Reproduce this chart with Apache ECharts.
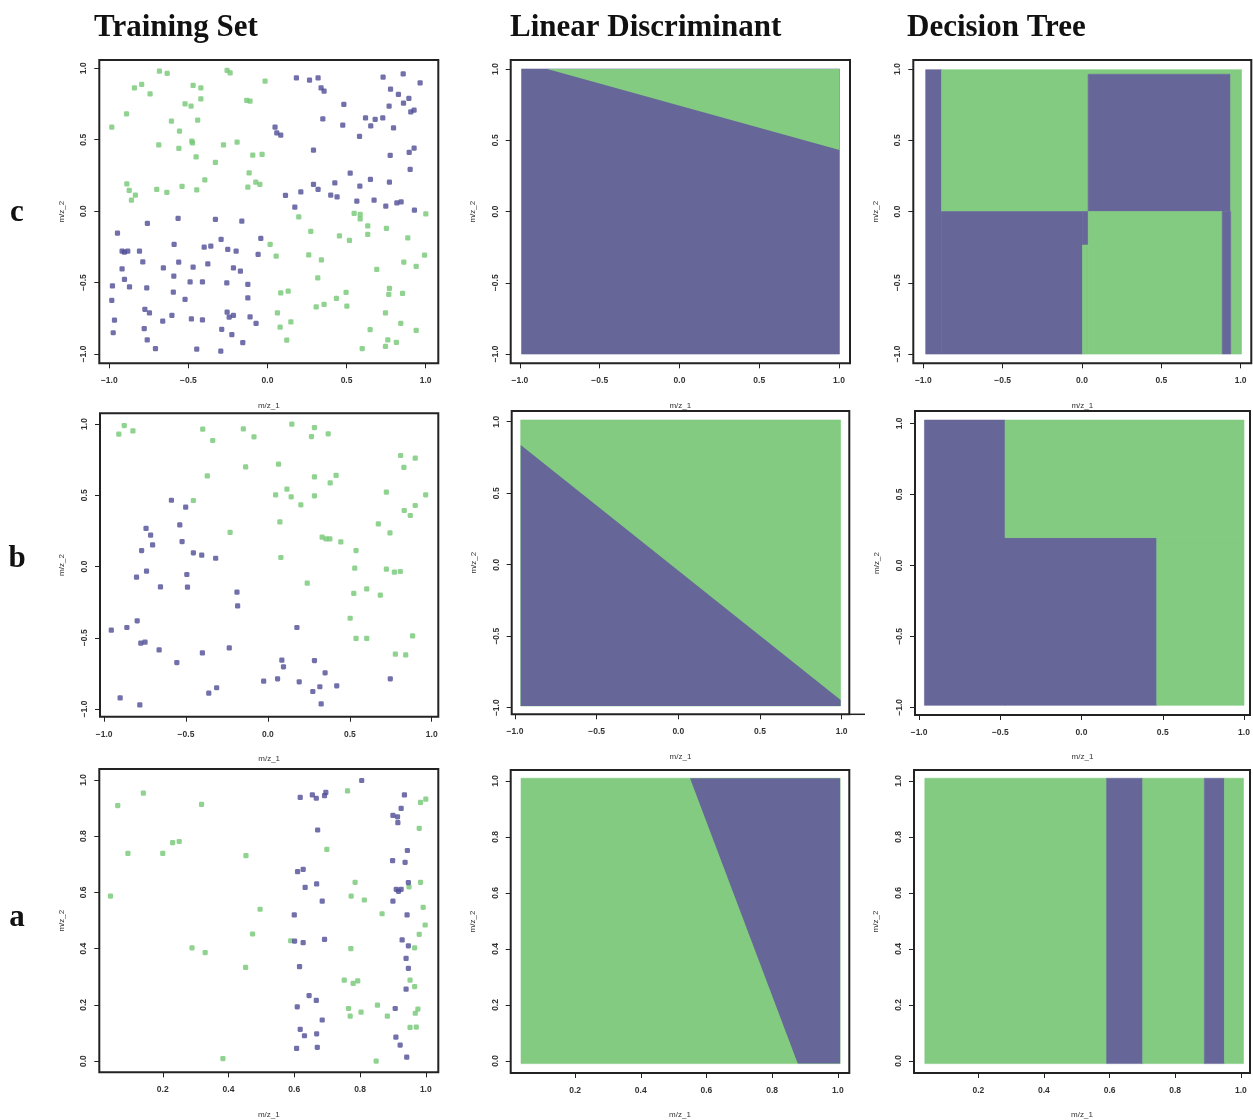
<!DOCTYPE html>
<html><head><meta charset="utf-8">
<script src="https://cdn.jsdelivr.net/npm/echarts@6/dist/echarts.min.js"></script>
<style>html,body{margin:0;padding:0;background:#fff}#c{width:1253px;height:1120px}</style>
</head><body><div id="c"></div>
<script>
// ---------- tick labels ----------
const ticksSym = [-1, -0.5, 0, 0.5, 1];
const ticksUnitX = [0.2, 0.4, 0.6, 0.8, 1.0];
const ticksUnitY = [0, 0.2, 0.4, 0.6, 0.8, 1.0];
const columnTitles = ['Training Set', 'Linear Discriminant', 'Decision Tree'];
const rowLabels = ['c', 'b', 'a'];
const xName = 'm/z_1', yName = 'm/z_2';

// ---------- training sets (m/z_1, m/z_2) ----------
const cTrainGreen = [[-0.984,0.588],[-0.891,0.681],[-0.841,0.863],[-0.795,0.887],[-0.742,0.821],[-0.683,0.980],[-0.634,0.964],[-0.470,0.880],[-0.421,0.863],[-0.421,0.786],[-0.521,0.751],[-0.483,0.735],[-0.441,0.637],[-0.607,0.630],[-0.556,0.560],[-0.478,0.490],[-0.474,0.478],[-0.687,0.464],[-0.560,0.439],[-0.451,0.380],[-0.329,0.341],[-0.278,0.464],[-0.192,0.483],[-0.255,0.985],[-0.236,0.968],[-0.131,0.775],[-0.110,0.770],[-0.015,0.910],[-0.093,0.392],[-0.034,0.397],[-0.116,0.268],[-0.074,0.203],[-0.048,0.187],[-0.124,0.168],[-0.396,0.219],[-0.447,0.149],[-0.540,0.173],[-0.700,0.152],[-0.636,0.131],[-0.889,0.191],[-0.874,0.145],[-0.835,0.112],[-0.860,0.077],
[0.198,-0.040],[0.548,-0.016],[0.586,-0.023],[0.586,-0.054],[0.634,-0.103],[0.634,-0.163],[1.001,-0.019],[0.274,-0.142],[0.455,-0.173],[0.518,-0.205],[0.752,-0.121],[0.887,-0.187],[0.017,-0.233],[0.055,-0.315],[0.261,-0.306],[0.341,-0.341],[0.691,-0.408],[0.862,-0.357],[0.993,-0.308],[0.940,-0.387],[0.318,-0.467],[0.084,-0.572],[0.131,-0.560],[0.497,-0.569],[0.436,-0.611],[0.502,-0.665],[0.308,-0.670],[0.358,-0.653],[0.063,-0.712],[0.080,-0.812],[0.148,-0.775],[0.122,-0.903],[0.771,-0.541],[0.767,-0.583],[0.854,-0.576],[0.746,-0.712],[0.843,-0.786],[0.649,-0.829],[0.940,-0.835],[0.599,-0.962],[0.746,-0.947],[0.761,-0.901],[0.815,-0.919]];
const cTrainPurple = [[0.183,0.933],[0.266,0.917],[0.320,0.933],[0.339,0.863],[0.358,0.840],[0.048,0.588],[0.059,0.548],[0.084,0.532],[0.291,0.427],[0.350,0.646],[0.483,0.747],[0.476,0.602],[0.731,0.938],[0.858,0.961],[0.965,0.898],[0.778,0.854],[0.828,0.817],[0.894,0.789],[0.769,0.735],[0.860,0.756],[0.906,0.695],[0.927,0.707],[0.620,0.653],[0.681,0.642],[0.729,0.653],[0.653,0.597],[0.582,0.523],[0.797,0.583],[0.776,0.390],[0.896,0.411],[0.927,0.441],[0.902,0.292],
[0.523,0.266],[0.651,0.222],[0.426,0.198],[0.291,0.187],[0.320,0.152],[0.584,0.175],[0.771,0.203],[0.114,0.110],[0.211,0.135],[0.400,0.112],[0.440,0.100],[0.565,0.070],[0.674,0.077],[0.748,0.035],[0.818,0.058],[0.845,0.065],[0.929,0.007],[0.173,0.028],
[-0.759,-0.086],[-0.565,-0.051],[-0.329,-0.058],[-0.162,-0.070],[-0.948,-0.154],[-0.590,-0.233],[-0.293,-0.198],[-0.042,-0.191],[-0.919,-0.280],[-0.904,-0.287],[-0.883,-0.280],[-0.809,-0.280],[-0.788,-0.355],[-0.400,-0.252],[-0.358,-0.245],[-0.251,-0.268],[-0.198,-0.280],[-0.059,-0.303],[-0.919,-0.404],[-0.658,-0.397],[-0.561,-0.357],[-0.470,-0.392],[-0.377,-0.369],[-0.215,-0.397],[-0.171,-0.420],[-0.592,-0.455],[-0.904,-0.478],[-0.872,-0.530],[-0.763,-0.537],[-0.980,-0.523],[-0.489,-0.495],[-0.411,-0.495],[-0.257,-0.502],[-0.124,-0.513],[-0.984,-0.625],[-0.595,-0.567],[-0.521,-0.618],[-0.124,-0.607],[-0.967,-0.763],[-0.775,-0.687],[-0.746,-0.712],[-0.662,-0.770],[-0.604,-0.730],[-0.481,-0.754],[-0.411,-0.761],[-0.255,-0.707],[-0.242,-0.742],[-0.215,-0.730],[-0.110,-0.740],[-0.072,-0.786],[-0.779,-0.822],[-0.975,-0.851],[-0.760,-0.901],[-0.708,-0.962],[-0.447,-0.966],[-0.295,-0.980],[-0.289,-0.827],[-0.225,-0.864],[-0.156,-0.920]];

const bTrainGreen = [[-0.910,0.929],[-0.877,0.989],[-0.824,0.952],[-0.398,0.964],[-0.337,0.884],[-0.370,0.636],[-0.455,0.463],[-0.231,0.239],[-0.150,0.966],[-0.085,0.910],[-0.136,0.699],[0.146,0.999],[0.284,0.975],[0.266,0.912],[0.368,0.931],[0.065,0.718],[0.284,0.629],[0.416,0.639],[0.380,0.587],[0.047,0.503],[0.116,0.543],[0.142,0.489],[0.201,0.433],[0.284,0.496],[0.073,0.313],[0.079,0.063],[0.331,0.206],[0.355,0.194],[0.378,0.194],[0.445,0.173],[0.538,0.112],[0.240,-0.117],[0.530,-0.012],[0.524,-0.189],[0.603,-0.157],[0.686,-0.201],[0.502,-0.363],[0.538,-0.505],[0.603,-0.505],[0.723,-0.019],[0.772,-0.040],[0.808,-0.035],[0.745,0.236],[0.674,0.299],[0.869,0.358],[0.832,0.393],[0.899,0.428],[0.723,0.522],[0.963,0.503],[0.810,0.779],[0.899,0.760],[0.830,0.695],[0.778,-0.615],[0.841,-0.620],[0.883,-0.487]];
const bTrainPurple = [[-0.589,0.465],[-0.502,0.416],[-0.538,0.292],[-0.524,0.175],[-0.744,0.267],[-0.716,0.220],[-0.704,0.152],[-0.771,0.112],[-0.741,-0.033],[-0.802,-0.075],[-0.455,0.096],[-0.404,0.080],[-0.319,0.058],[-0.495,-0.056],[-0.491,-0.145],[-0.656,-0.143],[-0.189,-0.180],[-0.185,-0.276],[-0.956,-0.447],[-0.861,-0.428],[-0.798,-0.381],[-0.776,-0.538],[-0.750,-0.531],[-0.664,-0.585],[-0.556,-0.674],[-0.400,-0.606],[-0.236,-0.571],[-0.902,-0.922],[-0.782,-0.971],[-0.361,-0.889],[-0.313,-0.851],[0.177,-0.428],[-0.026,-0.805],[0.059,-0.788],[0.085,-0.657],[0.095,-0.704],[0.191,-0.809],[0.284,-0.660],[0.274,-0.877],[0.349,-0.746],[0.317,-0.844],[0.420,-0.837],[0.325,-0.964],[0.747,-0.788]];

const aTrainGreen = [[0.063,0.909],[0.141,0.953],[0.094,0.739],[0.041,0.587],[0.200,0.739],[0.230,0.777],[0.250,0.781],[0.318,0.913],[0.453,0.731],[0.496,0.540],[0.473,0.452],[0.289,0.403],[0.329,0.386],[0.452,0.333],[0.383,0.009],[0.589,0.428],[0.762,0.961],[0.699,0.753],[0.785,0.636],[0.773,0.587],[0.813,0.573],[0.867,0.524],[0.772,0.400],[0.752,0.288],[0.779,0.276],[0.793,0.285],[0.765,0.187],[0.770,0.160],[0.803,0.174],[0.853,0.199],[0.883,0.160],[0.849,0.000],[0.984,0.920],[1.000,0.932],[0.980,0.828],[0.984,0.636],[0.949,0.620],[0.992,0.547],[0.998,0.484],[0.980,0.451],[0.966,0.403],[0.952,0.288],[0.966,0.265],[0.976,0.185],[0.968,0.170],[0.952,0.120],[0.971,0.121]];
const aTrainPurple = [[0.618,0.938],[0.655,0.947],[0.667,0.935],[0.692,0.944],[0.696,0.956],[0.671,0.822],[0.610,0.674],[0.627,0.682],[0.633,0.618],[0.668,0.630],[0.685,0.569],[0.600,0.520],[0.601,0.427],[0.627,0.421],[0.692,0.433],[0.616,0.336],[0.645,0.233],[0.667,0.216],[0.609,0.193],[0.685,0.146],[0.618,0.113],[0.631,0.090],[0.668,0.097],[0.607,0.045],[0.670,0.049],[0.805,0.998],[0.935,0.947],[0.925,0.899],[0.900,0.874],[0.914,0.869],[0.915,0.848],[0.944,0.749],[0.899,0.713],[0.937,0.707],[0.947,0.635],[0.910,0.611],[0.917,0.604],[0.925,0.611],[0.900,0.569],[0.943,0.520],[0.928,0.431],[0.947,0.410],[0.940,0.365],[0.947,0.330],[0.940,0.256],[0.907,0.187],[0.909,0.085],[0.922,0.057],[0.942,0.014]];

// ---------- decision regions: [x0, x1, y0, y1, class(0 green, 1 purple)] ----------
const cLdaArea = [[-0.99, 1.003, -1.0, 1.0, 1]];
const cLdaGreenPoly = [[-0.829, 1.0], [1.003, 1.0], [1.003, 0.432]];
const bLdaArea = [[-0.965, 0.994, -0.988, 1.012, 0]];
const bLdaPurplePoly = [[-0.965, 0.837], [0.994, -0.946], [0.994, -0.988], [-0.965, -0.988]];
const aLdaArea = [[0.0355, 1.007, -0.0095, 1.0095, 0]];
const aLdaPurplePoly = [[0.550, 1.0095], [1.007, 1.0095], [1.007, -0.0095], [0.878, -0.0095]];

const cTreeRects = [
  [-0.985, -0.885, -1.0, 0.995, 1],
  [-0.885, 0.039, 0.0, 0.995, 0],
  [0.039, 0.937, 0.963, 0.995, 0],
  [0.039, 0.937, 0.0, 0.963, 1],
  [0.937, 1.005, -1.0, 0.995, 0],
  [-0.885, 0.003, -1.0, 0.0, 1],
  [0.003, 0.039, -0.235, 0.0, 1],
  [0.003, 0.039, -1.0, -0.235, 0],
  [0.039, 0.884, -1.0, 0.0, 0],
  [0.884, 0.937, -1.0, 0.0, 1]
];
const bTreeRects = [
  [-0.967, -0.471, -0.986, 1.023, 1],
  [-0.471, 0.463, -0.986, 0.195, 1],
  [-0.471, 1.0, 0.195, 1.023, 0],
  [0.463, 1.0, -0.986, 0.195, 0]
];
const aTreeRects = [
  [0.037, 0.591, -0.0095, 1.0095, 0],
  [0.591, 0.701, -0.0095, 1.0095, 1],
  [0.701, 0.889, -0.0095, 1.0095, 0],
  [0.889, 0.950, -0.0095, 1.0095, 1],
  [0.950, 1.008, -0.0095, 1.0095, 0]
];

// ---------- styling / layout ----------
const GREEN = '#82cb80', PURPLE = '#666699';
const PT_GREEN = '#74c875', PT_PURPLE = '#4f4c95';
const FRAME = '#222';

const panels = [
  {L: 99.3, R: 438.3, T: 60, B: 363.3, x: [-1.063, 1.080], y: [-1.065, 1.058], xt: ticksSym, yt: ticksSym},
  {L: 510.7, R: 850, T: 60, B: 363.3, x: [-1.058, 1.069], y: [-1.065, 1.063], xt: ticksSym, yt: ticksSym},
  {L: 913.3, R: 1251.3, T: 60, B: 363.3, x: [-1.063, 1.067], y: [-1.065, 1.063], xt: ticksSym, yt: ticksSym},
  {L: 100, R: 438.3, T: 413.3, B: 716.7, x: [-1.025, 1.040], y: [-1.054, 1.075], xt: ticksSym, yt: ticksSym},
  {L: 511.7, R: 849.3, T: 411, B: 714.3, x: [-1.020, 1.047], y: [-1.046, 1.075], xt: ticksSym, yt: ticksSym},
  {L: 915, R: 1250, T: 411, B: 715, x: [-1.025, 1.037], y: [-1.054, 1.087], xt: ticksSym, yt: ticksSym},
  {L: 99.3, R: 438.3, T: 769, B: 1072.3, x: [0.007, 1.038], y: [-0.040, 1.039], xt: ticksUnitX, yt: ticksUnitY},
  {L: 510.7, R: 849.3, T: 770, B: 1074.3, x: [0.004, 1.035], y: [-0.043, 1.039], xt: ticksUnitX, yt: ticksUnitY},
  {L: 914, R: 1250, T: 770, B: 1073.3, x: [0.004, 1.028], y: [-0.043, 1.039], xt: ticksUnitX, yt: ticksUnitY}
];

const tickFont = {fontSize: 8.5, fontWeight: 'bold', color: '#333', fontFamily: 'Liberation Sans'};
const nameFont = {fontSize: 8, color: '#333', fontFamily: 'Liberation Sans'};
const fmt = v => { const s = Number(v).toFixed(1); return s.charAt(0) === '-' ? '\u2212' + s.slice(1) : s; };

const grid = panels.map(p => ({
  left: p.L, top: p.T, width: p.R - p.L, height: p.B - p.T,
  show: true, borderColor: FRAME, borderWidth: 2, backgroundColor: '#fff', containLabel: false
}));
const xAxis = panels.map((p, i) => ({
  gridIndex: i, type: 'value', min: p.x[0], max: p.x[1], position: 'bottom',
  axisLine: {show: false, onZero: false}, splitLine: {show: false},
  axisTick: {show: true, customValues: p.xt, length: 5, lineStyle: {color: FRAME, width: 1}},
  axisLabel: Object.assign({customValues: p.xt, formatter: fmt, margin: 13}, tickFont),
  name: xName, nameLocation: 'middle', nameGap: 38, nameTextStyle: nameFont
}));
const yAxis = panels.map((p, i) => ({
  gridIndex: i, type: 'value', min: p.y[0], max: p.y[1], position: 'left',
  axisLine: {show: false, onZero: false}, splitLine: {show: false},
  axisTick: {show: true, customValues: p.yt, length: 5, lineStyle: {color: FRAME, width: 1}},
  axisLabel: Object.assign({customValues: p.yt, formatter: fmt, margin: 11, rotate: 90}, tickFont),
  name: yName, nameLocation: 'middle', nameGap: 34, nameTextStyle: nameFont
}));

function rectSeries(idx, rects) {
  return {
    type: 'custom', xAxisIndex: idx, yAxisIndex: idx, data: rects, clip: false, silent: true,
    encode: {x: [0, 1], y: [2, 3]},
    renderItem: (params, api) => {
      const p0 = api.coord([api.value(0), api.value(3)]);
      const p1 = api.coord([api.value(1), api.value(2)]);
      const col = api.value(4) ? PURPLE : GREEN;
      return {type: 'rect', shape: {x: p0[0], y: p0[1], width: p1[0] - p0[0], height: p1[1] - p0[1]},
              style: {fill: col, stroke: col, lineWidth: 0.6}};
    }
  };
}
function polySeries(idx, poly, col) {
  return {
    type: 'custom', xAxisIndex: idx, yAxisIndex: idx, data: poly, clip: false, silent: true, z: 3,
    encode: {x: 0, y: 1},
    renderItem: (params, api) => {
      if (params.dataIndex !== 0) return null;
      return {type: 'polygon', shape: {points: poly.map(pt => api.coord(pt))}, style: {fill: col}};
    }
  };
}
function scatterSeries(idx, pts, col) {
  return {type: 'scatter', xAxisIndex: idx, yAxisIndex: idx, data: pts, symbol: 'roundRect', symbolSize: 5.2,
          itemStyle: {color: col}, silent: true, z: 4};
}

const series = [
  scatterSeries(0, cTrainGreen, PT_GREEN), scatterSeries(0, cTrainPurple, PT_PURPLE),
  rectSeries(1, cLdaArea), polySeries(1, cLdaGreenPoly, GREEN),
  rectSeries(2, cTreeRects),
  scatterSeries(3, bTrainGreen, PT_GREEN), scatterSeries(3, bTrainPurple, PT_PURPLE),
  rectSeries(4, bLdaArea), polySeries(4, bLdaPurplePoly, PURPLE),
  rectSeries(5, bTreeRects),
  scatterSeries(6, aTrainGreen, PT_GREEN), scatterSeries(6, aTrainPurple, PT_PURPLE),
  rectSeries(7, aLdaArea), polySeries(7, aLdaPurplePoly, PURPLE),
  rectSeries(8, aTreeRects)
];

const serifBold = 'bold 31px "Liberation Serif", "Times New Roman", serif';
const titleX = [94, 510, 907];
const rowY = [213, 559, 918];
const graphic = [];
columnTitles.forEach((t, i) => graphic.push({type: 'text', x: titleX[i], y: 27.5,
  style: {text: t, font: serifBold, fill: '#111', align: 'left', verticalAlign: 'middle', textAlign: 'left', textVerticalAlign: 'middle'}}));
rowLabels.forEach((t, i) => graphic.push({type: 'text', x: 17, y: rowY[i],
  style: {text: t, font: serifBold, fill: '#111', align: 'center', verticalAlign: 'middle', textAlign: 'center', textVerticalAlign: 'middle'}}));
graphic.push({type: 'line', shape: {x1: 849.3, y1: 714.3, x2: 865, y2: 714.3}, style: {stroke: FRAME, lineWidth: 1.5}});

const chart = echarts.init(document.getElementById('c'), null, {renderer: 'canvas'});
chart.setOption({backgroundColor: '#fff', animation: false, grid, xAxis, yAxis, series, graphic});
</script></body></html>
